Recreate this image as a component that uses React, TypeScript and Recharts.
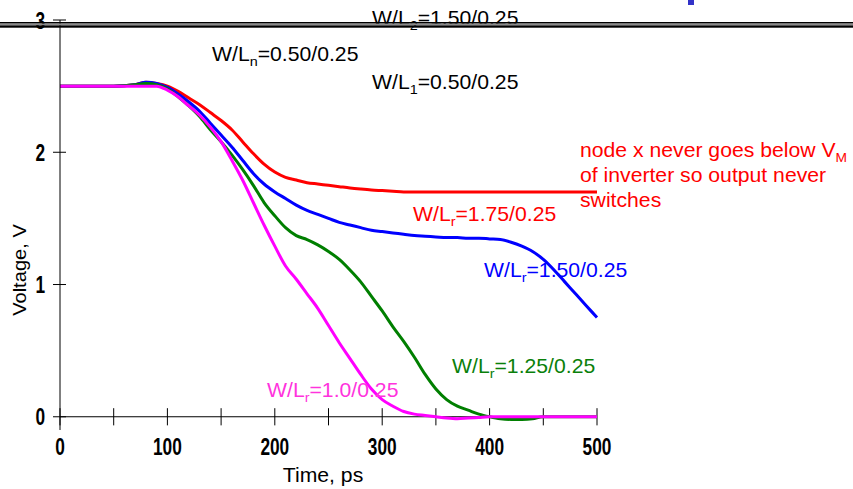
import React from 'react';
import { LineChart, Line, XAxis, YAxis, ReferenceLine } from 'recharts';

// Time axis (ps)
const times = [0, 50, 70, 80, 90, 100, 110, 120, 130, 140, 150, 160, 170, 180, 190, 200, 210, 220, 230, 240, 250, 260, 270, 280, 290, 300, 310, 320, 330, 340, 350, 360, 370, 380, 390, 400, 410, 420, 430, 440, 450, 460, 470, 480, 490, 500];

// W/Lr = 1.75/0.25 (red)
const wlr175 = [2.5, 2.5, 2.51, 2.53, 2.52, 2.5, 2.46, 2.41, 2.36, 2.3, 2.24, 2.17, 2.08, 1.99, 1.91, 1.85, 1.81, 1.79, 1.77, 1.76, 1.75, 1.74, 1.73, 1.722, 1.715, 1.71, 1.705, 1.7, 1.7, 1.7, 1.7, 1.7, 1.7, 1.7, 1.7, 1.7, 1.7, 1.7, 1.7, 1.7, 1.7, 1.7, 1.7, 1.7, 1.7, 1.7];

// W/Lr = 1.50/0.25 (blue)
const wlr150 = [2.5, 2.5, 2.51, 2.53, 2.52, 2.49, 2.44, 2.38, 2.31, 2.22, 2.13, 2.04, 1.94, 1.84, 1.76, 1.7, 1.65, 1.6, 1.56, 1.53, 1.5, 1.47, 1.45, 1.43, 1.41, 1.4, 1.39, 1.38, 1.37, 1.365, 1.36, 1.355, 1.355, 1.35, 1.35, 1.345, 1.34, 1.32, 1.29, 1.25, 1.19, 1.11, 1.02, 0.93, 0.84, 0.75];

// W/Lr = 1.25/0.25 (green)
const wlr125 = [2.5, 2.5, 2.51, 2.52, 2.51, 2.48, 2.42, 2.35, 2.27, 2.17, 2.08, 1.98, 1.87, 1.75, 1.62, 1.52, 1.43, 1.37, 1.34, 1.3, 1.25, 1.19, 1.11, 1.02, 0.91, 0.8, 0.68, 0.57, 0.45, 0.32, 0.21, 0.13, 0.08, 0.05, 0.02, 0.0, -0.015, -0.02, -0.02, -0.015, 0, 0, 0, 0, 0, 0];

// W/Lr = 1.0/0.25 (magenta)
const wlr100 = [2.5, 2.5, 2.5, 2.5, 2.5, 2.47, 2.42, 2.35, 2.28, 2.19, 2.08, 1.94, 1.79, 1.62, 1.45, 1.29, 1.14, 1.04, 0.93, 0.82, 0.69, 0.56, 0.44, 0.32, 0.21, 0.13, 0.08, 0.04, 0.02, 0.01, 0, -0.01, -0.015, -0.01, -0.005, 0, 0, 0, 0, 0, 0, 0, 0, 0, 0, 0];

const xLabelTicks = [0, 100, 200, 300, 400, 500];
const xMarkTicks = [0, 50, 100, 150, 200, 250, 300, 350, 400, 450, 500];
const yTicks = [0, 1, 2, 3];

const data = times.map((t, i) => ({
  t,
  r175: wlr175[i],
  r150: wlr150[i],
  r125: wlr125[i],
  r100: wlr100[i],
}));

const textFont = "'Liberation Sans', Arial, Helvetica, sans-serif";
const STRETCH = 1.06;

const XTick = (props: any) => {
  const { x, y, payload } = props;
  return (
    <g transform={`translate(${x},${y}) scale(0.72,1)`}>
      <text x={0} y={0} dy="0.72em" textAnchor="middle" fontFamily={textFont} fontWeight="bold" fontSize={24} fill="#000">
        {payload.value}
      </text>
    </g>
  );
};

const YTick = (props: any) => {
  const { x, y, payload } = props;
  return (
    <g>
      <line x1={x - 7} x2={x + 6} y1={y} y2={y} stroke="#000" strokeWidth={1} />
      <g transform={`translate(${x - 15},${y}) scale(0.72,1)`}>
        <text x={0} y={0} dy="0.36em" textAnchor="end" fontFamily={textFont} fontWeight="bold" fontSize={24} fill="#000">
          {payload.value}
        </text>
      </g>
    </g>
  );
};

const Sub = ({ base, sub, rest, x, y, fill, size = 20 }: any) => (
  <g transform={`translate(${x},${y}) scale(${STRETCH},1)`}>
    <text x={0} y={0} fill={fill} fontFamily={textFont} fontSize={size}>
      {base}
      <tspan dy={5} fontSize={size * 0.68}>{sub}</tspan>
      <tspan dy={-5}>{rest}</tspan>
    </text>
  </g>
);

const Plain = ({ x, y, fill, children, size = 20, anchor = 'start', rotate = 0 }: any) => (
  <g transform={`translate(${x},${y}) rotate(${rotate}) scale(${STRETCH},1)`}>
    <text x={0} y={0} fill={fill} fontFamily={textFont} fontSize={size} textAnchor={anchor}>
      {children}
    </text>
  </g>
);

export default function App() {
  return (
    <div style={{ position: 'absolute', left: 0, top: 0, width: 853, height: 489, background: '#fff' }}>
      <LineChart
        width={853}
        height={489}
        data={data}
        margin={{ top: 20, right: 256, bottom: 29, left: 20 }}
      >
        <XAxis
          dataKey="t"
          type="number"
          domain={[0, 500]}
          ticks={xLabelTicks}
          axisLine={false}
          tickLine={false}
          tickSize={0}
          tickMargin={8}
          height={30}
          tick={<XTick />}
        />
        <YAxis
          type="number"
          domain={[-0.1, 3]}
          ticks={yTicks}
          width={40}
          tickLine={false}
          tickSize={0}
          tickMargin={0}
          axisLine={{ stroke: '#000', strokeWidth: 1 }}
          tick={<YTick />}
        />
        <ReferenceLine y={0} stroke="#000" strokeWidth={1.2} />
        {xMarkTicks.map((t) => (
          <ReferenceLine
            key={t}
            segment={[{ x: t, y: -0.065 }, { x: t, y: 0.065 }]}
            stroke="#000"
            strokeWidth={1}
          />
        ))}
        <Line type="monotone" dataKey="r175" stroke="#ff0000" strokeWidth={3} dot={false} isAnimationActive={false} />
        <Line type="monotone" dataKey="r150" stroke="#0000ff" strokeWidth={3} dot={false} isAnimationActive={false} />
        <Line type="monotone" dataKey="r125" stroke="#007f00" strokeWidth={3} dot={false} isAnimationActive={false} />
        <Line type="monotone" dataKey="r100" stroke="#ff00ff" strokeWidth={3} dot={false} isAnimationActive={false} />
      </LineChart>
      <svg
        width={853}
        height={489}
        style={{ position: 'absolute', left: 0, top: 0, pointerEvents: 'none' }}
      >
        <rect x={688} y={0} width={6} height={5} fill="#3232c8" />
        <Sub x={372} y={25} fill="#000" base="W/L" sub="2" rest="=1.50/0.25" />
        <rect x={0} y={22} width={853} height={1.6} fill="#000" />
        <rect x={0} y={23.6} width={853} height={1.8} fill="#8a8a8a" />
        <rect x={0} y={25.4} width={853} height={2.3} fill="#000" />
        <Sub x={212} y={61} fill="#000" base="W/L" sub="n" rest="=0.50/0.25" />
        <Sub x={372} y={89} fill="#000" base="W/L" sub="1" rest="=0.50/0.25" />
        <Sub x={413} y={221} fill="#ff0000" base="W/L" sub="r" rest="=1.75/0.25" />
        <Sub x={484} y={277} fill="#0000ff" base="W/L" sub="r" rest="=1.50/0.25" />
        <Sub x={452} y={373} fill="#0a800a" base="W/L" sub="r" rest="=1.25/0.25" />
        <Sub x={267} y={397} fill="#ff33dd" base="W/L" sub="r" rest="=1.0/0.25" />
        <g transform={`translate(580,157) scale(${STRETCH},1)`}>
          <text x={0} y={0} fill="#ff0000" fontFamily={textFont} fontSize={20}>
            node x never goes below V
            <tspan dy={5} fontSize={13}>M</tspan>
          </text>
        </g>
        <Plain x={580} y={182} fill="#ff0000">of inverter so output never</Plain>
        <Plain x={580} y={207} fill="#ff0000">switches</Plain>
        <Plain x={323} y={482} fill="#000" anchor="middle" size={20}>Time, ps</Plain>
        <Plain x={26} y={270} fill="#000" anchor="middle" size={19} rotate={-90}>Voltage, V</Plain>
      </svg>
    </div>
  );
}
